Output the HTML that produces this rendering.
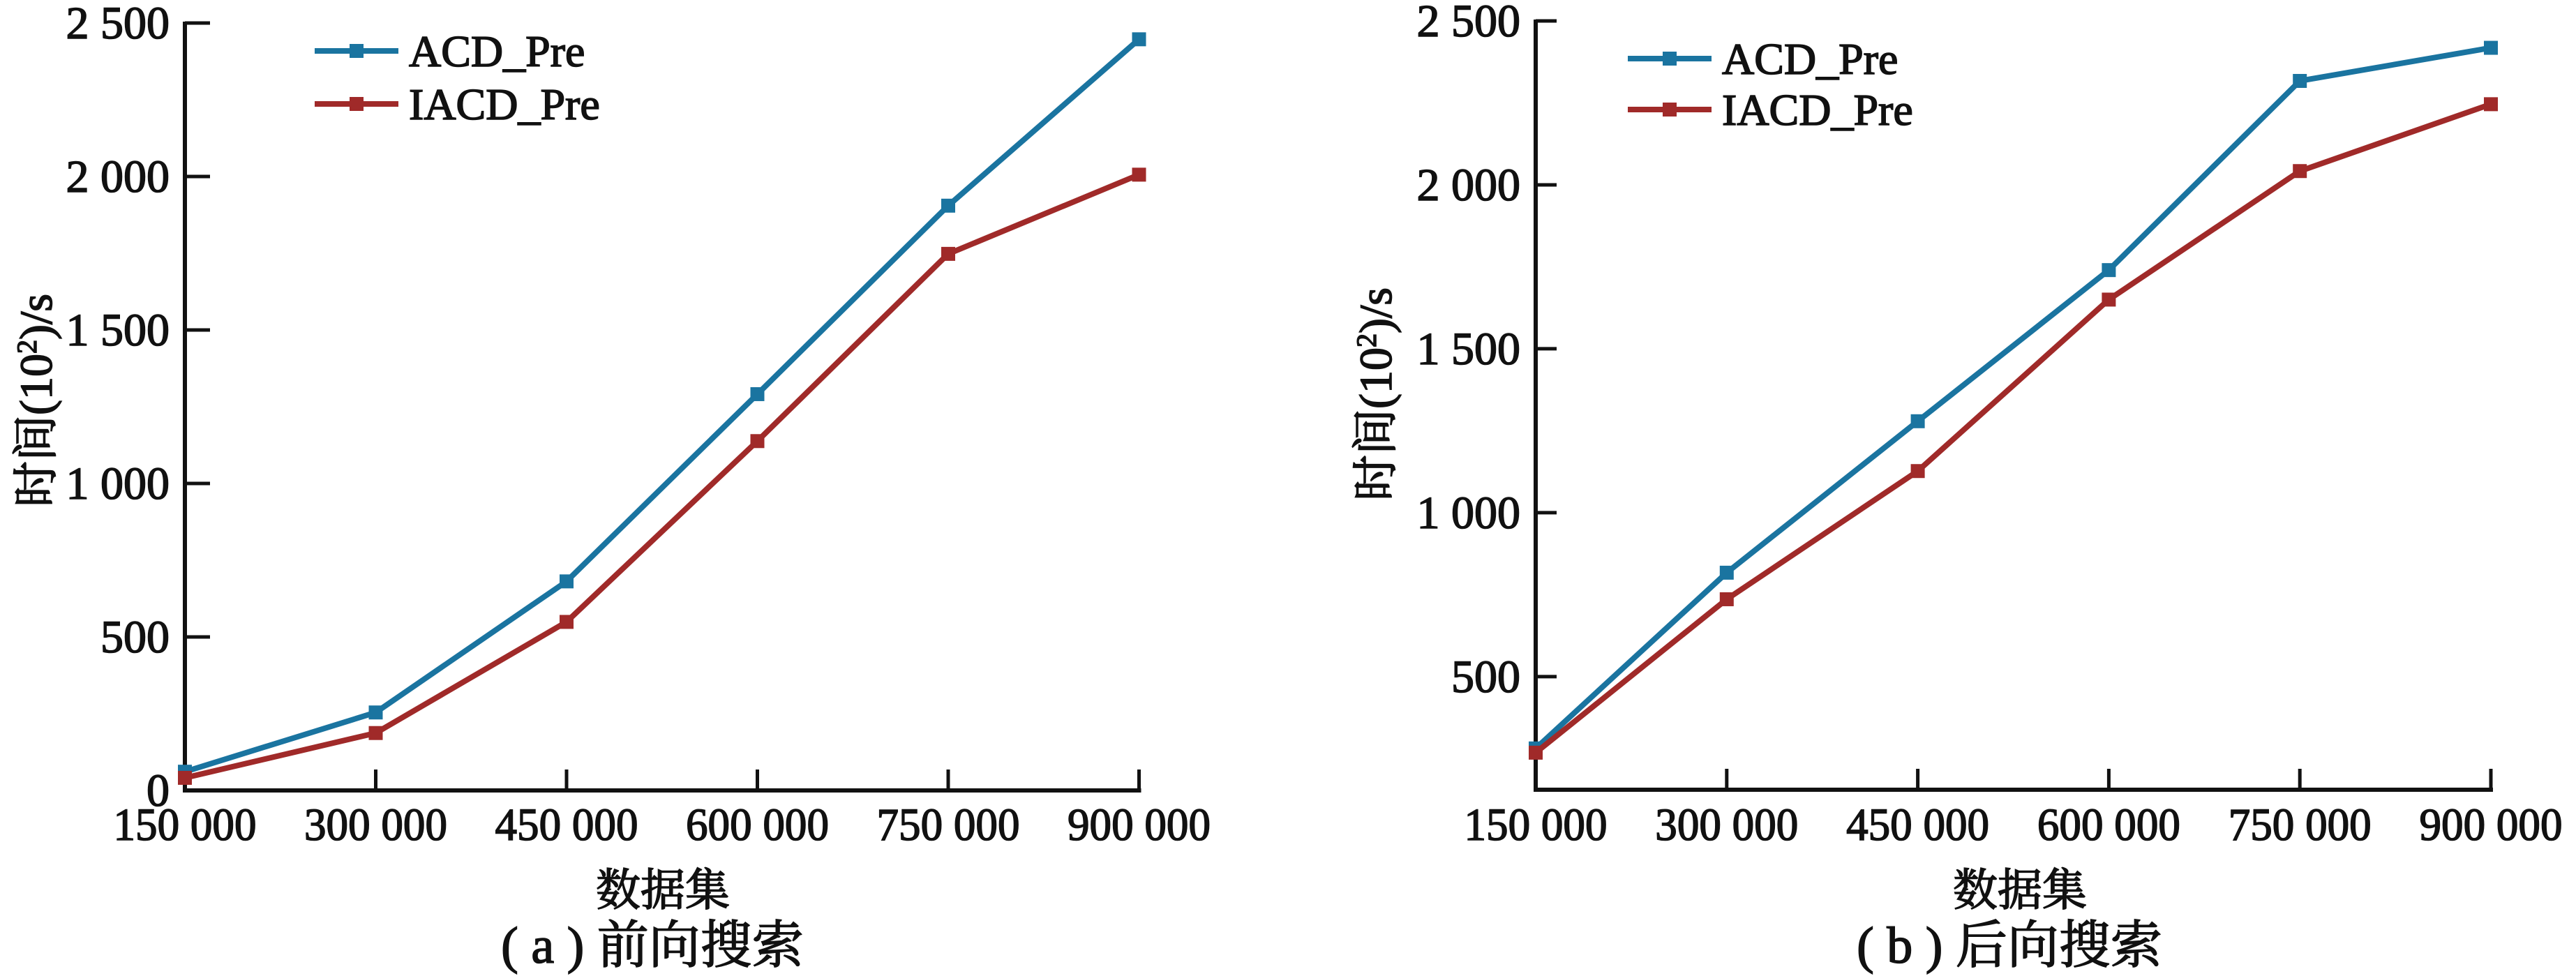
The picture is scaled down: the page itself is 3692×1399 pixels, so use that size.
<!DOCTYPE html>
<html><head><meta charset="utf-8"><style>
html,body{margin:0;padding:0;background:#fff;}
svg{display:block;}
text{font-family:"Liberation Serif","Noto Serif CJK SC","Noto Sans CJK SC",serif;fill:#111;stroke:#111;stroke-width:1.6px;}
</style></head><body>
<svg id="fig" width="3692" height="1399" viewBox="0 0 3692 1399" xmlns="http://www.w3.org/2000/svg"></svg>
<script>
const categories = ["150 000","300 000","450 000","600 000","750 000","900 000"];
const seriesNames = ["ACD_Pre","IACD_Pre"];
const fwdACD = [61, 254, 681, 1291, 1905, 2447];
const fwdIACD = [41, 187, 549, 1138, 1748, 2006];
const bwdACD = [281, 817, 1279, 1740, 2317, 2418];
const bwdIACD = [268, 736, 1127, 1650, 2042, 2246];
const yTicksA = [0, 500, 1000, 1500, 2000, 2500];
const yTickLabelsA = ["0","500","1 000","1 500","2 000","2 500"];
const yTicksB = [500, 1000, 1500, 2000, 2500];
const yTickLabelsB = ["500","1 000","1 500","2 000","2 500"];

const NS = "http://www.w3.org/2000/svg";
const svg = document.getElementById("fig");
const colors = ["#1a74a0", "#a02a29"];
function mk(tag, attrs, parent){ const e=document.createElementNS(NS,tag); for(const k in attrs) e.setAttribute(k,attrs[k]); (parent||svg).appendChild(e); return e; }

function drawPanel(p){
  const g = mk("g",{});
  
  
  const xs = i => p.x0 + i*p.xstep;
  const ys = v => p.yBottom - (v - p.ymin)/(p.ymax - p.ymin)*(p.yBottom - p.yTop);
  const ya = mk("line",{x1:p.x0,y1:p.yTop-2,x2:p.x0,y2:p.yBottom+3,stroke:"#111","stroke-width":6},g);
  
  
  const xa = mk("line",{x1:p.x0-3,y1:p.yBottom,x2:xs(categories.length-1)+3,y2:p.yBottom,stroke:"#111","stroke-width":6},g);
  
  
  p.yTicks.forEach((v,i)=>{
    const y = ys(v);
    const t = mk("line",{x1:p.x0,y1:y,x2:p.x0+p.tickLen,y2:y,stroke:"#111","stroke-width":5},g);
    
    
    const l = mk("text",{x:p.x0-22,y:y+22,"font-size":66,"text-anchor":"end"},g);
    l.textContent = p.yLabels[i];
    
    
  });
  categories.forEach((c,i)=>{
    const x = xs(i);
    if(i>0){
      const t = mk("line",{x1:x,y1:p.yBottom,x2:x,y2:p.yBottom-30,stroke:"#111","stroke-width":5},g);
      
      
    }
    const l = mk("text",{x:x,y:1204,"font-size":66,"text-anchor":"middle",textLength:205,lengthAdjust:"spacingAndGlyphs"},g);
    l.textContent = c;
    
    
  });
  [p.s1,p.s2].forEach((vals,si)=>{
    const pts = vals.map((v,i)=>xs(i)+","+ys(v)).join(" ");
    const pl = mk("polyline",{points:pts,fill:"none",stroke:colors[si],"stroke-width":8,"stroke-linejoin":"miter"},g);
    
    
    vals.forEach((v,i)=>{
      const m = mk("rect",{x:xs(i)-10,y:ys(v)-10,width:20,height:20,fill:colors[si]},g);
      
      
    });
  });
  seriesNames.forEach((n,si)=>{
    const y = p.legY[si];
    const lg = mk("g",{},g);
    
    
    mk("line",{x1:p.legX,y1:y,x2:p.legX+120,y2:y,stroke:colors[si],"stroke-width":8},lg);
    mk("rect",{x:p.legX+50,y:y-10,width:20,height:20,fill:colors[si]},lg);
    const t = mk("text",{x:p.legX+135,y:y+22,"font-size":64},lg);
    t.textContent = n;
  });
  const yt = mk("text",{x:0,y:0,"font-size":66,"text-anchor":"middle",transform:"translate("+(p.ytX)+","+p.ytY+") rotate(-90)"},g);
  yt.innerHTML = '时间(10<tspan font-size="40" dy="-22">2</tspan><tspan dy="22">)/s</tspan>';
  
  
  const xt = mk("text",{x:p.capX+15,y:1298,"font-size":64,"text-anchor":"middle"},g);
  xt.textContent = "数据集";
  
  
  const cap = mk("text",{x:p.capX,y:1380,"font-size":74,"text-anchor":"middle"},g);
  cap.textContent = p.caption;
  
  
}

drawPanel({name:"forward-search-chart",x0:265,xstep:273.5,yTop:33,yBottom:1133,ymin:0,ymax:2500,
  yTicks:yTicksA,yLabels:yTickLabelsA,s1:fwdACD,s2:fwdIACD,tickLen:36,legX:451,legY:[73,149],
  ytX:74,ytY:574,capX:935,caption:"( a ) 前向搜索"});
drawPanel({name:"backward-search-chart",x0:2201,xstep:273.8,yTop:30,yBottom:1132,ymin:155,ymax:2500,
  yTicks:yTicksB,yLabels:yTickLabelsB,s1:bwdACD,s2:bwdIACD,tickLen:30,legX:2333,legY:[84,157],
  ytX:1994,ytY:565,capX:2880,caption:"( b ) 后向搜索"});
</script>
</body></html>
